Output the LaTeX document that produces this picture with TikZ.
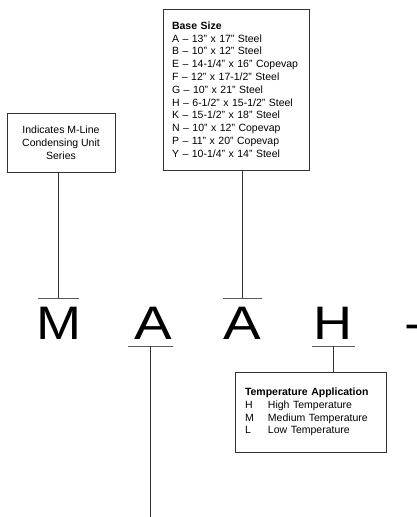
\documentclass[tikz,border=0pt]{standalone}
\usepackage{fontspec}
\setmainfont{Liberation Sans}
\usetikzlibrary{positioning}

\begin{document}
\begin{tikzpicture}[x=1pt,y=-1pt,
  box/.style={rectangle,draw=black!80,line width=.9pt,inner sep=0pt,font=\fontsize{10.5}{12.8}\selectfont},
  letter/.style={anchor=base,inner sep=0pt,font=\fontsize{47}{50}\selectfont},
  bar/.style={draw=black!65,line width=.9pt},
  lead/.style={draw=black!80,line width=.9pt}]
\useasboundingbox (0,0) rectangle (416,517);

% Boxes
\node[box,minimum width=108pt,minimum height=59pt,align=center] (series) at (61,142.5) {Indicates M-Line\\Condensing Unit\\Series};
\node[box,minimum width=146pt,minimum height=161pt,text width=128pt,align=left] (base) at (236,89.5) {\textbf{Base Size}\\
A -- 13" x 17" Steel\\
B -- 10" x 12" Steel\\
E -- 14-1/4" x 16" Copevap\\
F -- 12" x 17-1/2" Steel\\
G -- 10" x 21" Steel\\
H -- 6-1/2" x 15-1/2" Steel\\
K -- 15-1/2" x 18" Steel\\
N -- 10" x 12" Copevap\\
P -- 11" x 20" Copevap\\
Y -- 10-1/4" x 14" Steel};
\node[box,minimum width=151pt,minimum height=80pt,text width=131pt,align=left] (temp) at (310.5,412) {\textbf{Temperature Application}\\
\makebox[23pt][l]{H}High Temperature\\
\makebox[23pt][l]{M}Medium Temperature\\
\makebox[23pt][l]{L}Low Temperature};

% Letters
\node[letter] (m) at (59,339) {\scalebox{1.15}[1]{M}};
\node[letter] (a1) at (153,339) {\scalebox{1.2}[1]{A}};
\node[letter] (a2) at (242.5,339) {\scalebox{1.2}[1]{A}};
\node[letter] (h) at (333,339) {\scalebox{1.15}[1]{H}};
\node[letter,anchor=base west] (dash) at (404,339) {\scalebox{1.2}[1]{-}};

% bars
\coordinate (mbar) at ([xshift=-.5pt,yshift=41pt]m.base);
\coordinate (abar) at ([xshift=-2.5pt,yshift=-7pt]a1.base);
\coordinate (bbar) at ([yshift=41pt]a2.base);
\coordinate (hbar) at ([xshift=.5pt,yshift=-7pt]h.base);
\coordinate (aend) at (abar |- 0,517);

\draw[bar] ([xshift=-20.5pt]mbar) -- ([xshift=20.5pt]mbar);
\draw[bar] ([xshift=-22.5pt]abar) -- ([xshift=22.5pt]abar);
\draw[bar] ([xshift=-19.5pt]bbar) -- ([xshift=19.5pt]bbar);
\draw[bar] ([xshift=-21.5pt]hbar) -- ([xshift=21.5pt]hbar);

%leads
\draw[lead] (mbar |- series.south) -- (mbar);
\draw[lead] (bbar |- base.south) -- (bbar);
\draw[lead] (abar) -- (aend);
\draw[lead] (hbar) -- (hbar |- temp.north);

\end{tikzpicture}
\end{document}
